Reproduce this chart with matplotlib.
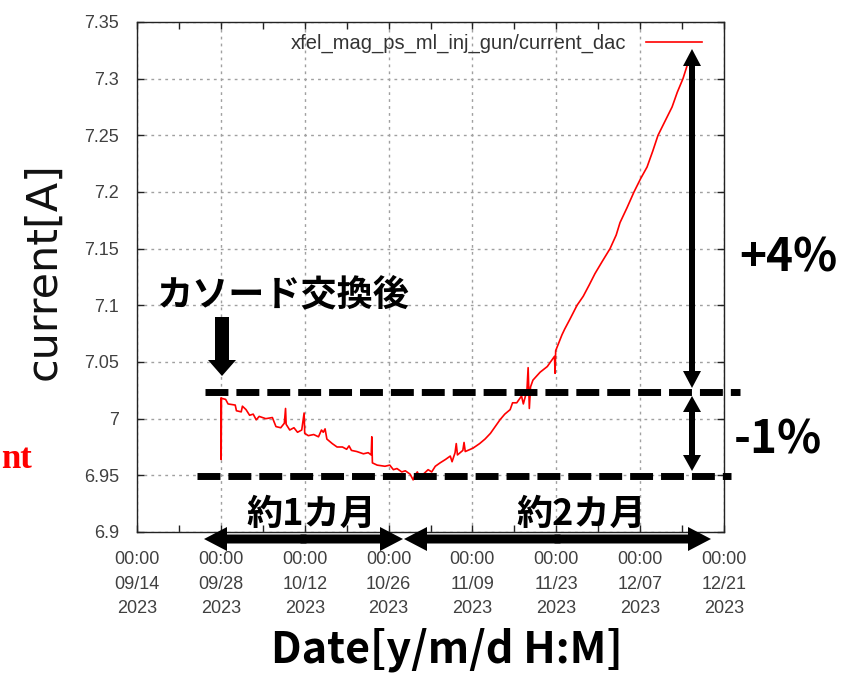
import numpy as np
import matplotlib
matplotlib.use("Agg")
import matplotlib.pyplot as plt
import matplotlib.dates as mdates
from matplotlib.patches import FancyArrow
from matplotlib.transforms import Affine2D

# ---------------- data ----------------
start_date = np.datetime64("2023-09-14T00:00")
end_date = np.datetime64("2023-12-21T00:00")

days_since_start = [
    14.00, 14.05, 14.10, 14.80, 15.20, 16.40, 16.60, 17.40, 17.60, 18.20,
    18.80, 19.40, 19.90, 20.40, 21.50, 22.60, 23.20, 24.00, 24.60, 24.80,
    24.90, 25.50, 26.20, 26.80, 27.50, 27.90, 28.00, 28.60, 29.50, 30.30,
    30.80, 31.10, 31.40, 31.70, 32.60, 33.40, 34.30, 35.00, 35.40, 35.80,
    36.70, 37.80, 38.60, 39.10, 39.20, 39.30, 40.10, 41.40, 42.20, 42.80,
    43.40, 44.20, 44.80, 45.60, 46.10, 46.40, 46.80, 47.30, 47.80, 48.60,
    49.20, 49.80, 50.60, 51.50, 52.30, 52.60, 53.10, 53.30, 53.50, 54.40,
    54.60, 54.80, 56.10, 57.20, 58.10, 59.00, 59.80, 60.60, 61.40, 62.30,
    62.70, 63.40, 64.20, 64.50, 65.10, 65.30, 65.50, 65.70, 66.10, 67.30,
    68.50, 69.70, 69.80, 69.90, 70.95, 71.40, 72.30, 73.46, 74.50, 75.50,
    76.46, 77.70, 78.97, 80.00, 80.64, 81.80, 82.97, 84.10, 85.15, 86.10,
    86.98, 88.20, 89.33, 90.20, 91.15, 91.99,
]
current_a = [
    7.018, 6.964, 7.018, 7.017, 7.013, 7.012, 7.007, 7.006, 7.011, 7.008,
    7.003, 7.004, 6.999, 7.002, 7.000, 7.001, 6.993, 6.992, 6.996, 7.009,
    6.995, 6.990, 6.992, 6.988, 6.990, 7.005, 6.987, 6.985, 6.986, 6.984,
    6.990, 6.988, 6.991, 6.982, 6.978, 6.975, 6.975, 6.973, 6.976, 6.972,
    6.971, 6.969, 6.970, 6.968, 6.984, 6.961, 6.959, 6.958, 6.959, 6.955,
    6.956, 6.953, 6.954, 6.951, 6.946, 6.950, 6.953, 6.947, 6.951, 6.955,
    6.953, 6.958, 6.961, 6.964, 6.967, 6.962, 6.970, 6.978, 6.968, 6.972,
    6.979, 6.971, 6.974, 6.978, 6.982, 6.987, 6.993, 6.999, 7.004, 7.008,
    7.014, 7.014, 7.020, 7.013, 7.025, 7.045, 7.009, 7.028, 7.034, 7.041,
    7.046, 7.055, 7.040, 7.060, 7.074, 7.079, 7.088, 7.100, 7.108, 7.118,
    7.128, 7.139, 7.150, 7.162, 7.173, 7.186, 7.200, 7.212, 7.222, 7.236,
    7.250, 7.263, 7.275, 7.288, 7.300, 7.314,
]
series_label = "xfel_mag_ps_ml_inj_gun/current_dac"

y_ticks = [6.9, 6.95, 7.0, 7.05, 7.1, 7.15, 7.2, 7.25, 7.3, 7.35]
y_tick_labels = ["6.9", "6.95", "7", "7.05", "7.1", "7.15", "7.2", "7.25", "7.3", "7.35"]

upper_level = 7.0235   # after cathode replacement
lower_level = 6.9495   # minimum

# ---------------- figure ----------------
W, H = 844, 674
fig = plt.figure(figsize=(W / 100, H / 100), dpi=100)

def px(x, y):
    return (x / W, 1 - y / H)

# pixel coordinates (origin top-left, y down) -> figure
pix = Affine2D().scale(1 / W, -1 / H).translate(0, 1) + fig.transFigure

ax = fig.add_axes([137 / W, 1 - 532 / H, (724 - 137) / W, (532 - 22) / H])

dates = start_date + (np.array(days_since_start) * 24 * 60).round().astype("timedelta64[m]")
ax.plot(dates, current_a, color="#ff0000", lw=1.2, label=series_label, zorder=3)

ax.set_xlim(start_date, end_date)
ax.set_ylim(6.9, 7.35)
ax.set_yticks(y_ticks)
ax.set_yticklabels(y_tick_labels)

major = [start_date + np.timedelta64(14 * i, "D") for i in range(8)]
minor = [start_date + np.timedelta64(7 * i, "D") for i in range(15)]
ax.set_xticks(major)
ax.set_xticks(minor, minor=True)
ax.xaxis.set_major_formatter(mdates.DateFormatter("%H:%M\n%m/%d\n%Y"))

tick_color = "#404040"
ax.tick_params(axis="both", which="both", direction="in", top=True, right=True,
               length=5, width=1, color="#222222")
ax.tick_params(axis="y", labelsize=13, labelcolor=tick_color, pad=13)
ax.tick_params(axis="x", labelsize=13, labelcolor=tick_color, pad=13.5)
for lab in ax.get_xticklabels() + ax.get_yticklabels():
    lab.set_family("Liberation Sans")
for lab in ax.get_xticklabels():
    lab.set_linespacing(1.6)

ax.grid(True, which="major", color="#a0a0a0", linestyle=(0, (2, 3)), lw=1)
for s in ax.spines.values():
    s.set_color("#222222")
    s.set_linewidth(1)

fig.text(43 / W, 1 - 271 / H, "current[A]", rotation=90, ha="center", va="center",
         fontsize=31, family="DejaVu Sans", color="#111111")

leg = ax.legend(loc="upper right", bbox_to_anchor=px(702, 34), bbox_transform=fig.transFigure,
                frameon=False, markerfirst=False, handlelength=2.8, handletextpad=0.95,
                borderaxespad=0, borderpad=0, prop={"family": "Liberation Sans", "size": 14.5})
for t in leg.get_texts():
    t.set_color("#333333")

# ---------------- dashed level lines ----------------
yt = ax.get_yaxis_transform()
ax.plot([(205 - 137) / 587, (740 - 137) / 587], [upper_level, upper_level], transform=yt,
        color="black", lw=5, dashes=(3.3, 1.15), clip_on=False, zorder=4)
ax.plot([(197 - 137) / 587, (731 - 137) / 587], [lower_level, lower_level], transform=yt,
        color="black", lw=5, dashes=(3.3, 1.15), clip_on=False, zorder=4)

# ---------------- arrows (pixel geometry) ----------------
def arrow(x0, y0, x1, y1, shaft, hw, hl):
    a = FancyArrow(x0, y0, x1 - x0, y1 - y0, width=shaft, head_width=hw, head_length=hl,
                   length_includes_head=True, transform=pix, color="black", lw=0, zorder=6)
    fig.add_artist(a)

def double_arrow(x0, y0, x1, y1, shaft, hw, hl):
    # two half-arrows that overlap a little in the middle
    L = np.hypot(x1 - x0, y1 - y0)
    ux, uy = (x1 - x0) / L, (y1 - y0) / L
    mx, my = (x0 + x1) / 2, (y0 + y1) / 2
    arrow(mx + 3 * ux, my + 3 * uy, x0, y0, shaft, hw, hl)
    arrow(mx - 3 * ux, my - 3 * uy, x1, y1, shaft, hw, hl)

double_arrow(692, 49, 692, 388, 6, 18, 17)
double_arrow(692, 396, 692, 471, 6, 18, 16)
double_arrow(204, 539, 403, 539, 9, 24, 23)
double_arrow(404, 539, 711, 539, 9, 24, 23)
arrow(222, 317, 222, 376, 14, 28, 16)

# ---------------- annotation texts ----------------
jp = ["Noto Sans CJK JP", "DejaVu Sans"]
fig.text(*px(283, 295), "カソード交換後", ha="center", va="center", fontsize=26,
         family=jp, weight="bold")
fig.text(*px(311, 514), "約1カ月", ha="center", va="center", fontsize=26,
         family=jp, weight="bold")
fig.text(*px(581, 514), "約2カ月", ha="center", va="center", fontsize=26,
         family=jp, weight="bold")
fig.text(*px(788, 258), "+4%", ha="center", va="center", fontsize=33,
         family=jp, weight="bold")
fig.text(*px(778, 440), "-1%", ha="center", va="center", fontsize=33,
         family=jp, weight="bold")
fig.text(*px(447, 650), "Date[y/m/d H:M]", ha="center", va="center", fontsize=31,
         family=jp, weight="bold")
fig.text(*px(1, 460), "nt", ha="left", va="center", fontsize=25,
         family="Liberation Serif", weight="bold", color="#ff0000")

fig.savefig("out.png", dpi=100)
